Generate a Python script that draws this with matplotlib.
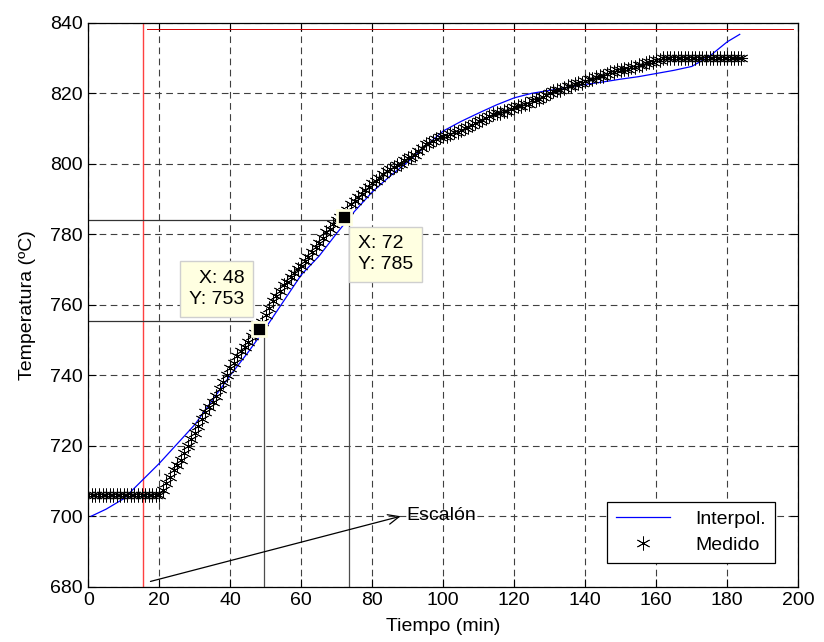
import matplotlib
matplotlib.use("Agg")
import matplotlib.pyplot as plt
import numpy as np

plt.rcParams['font.family'] = ['Liberation Sans', 'DejaVu Sans']

# ---- data ----
medido_t = list(range(0, 185))
medido_T = [706]*21 + [
    707.5, 709.5, 711, 713, 714.5, 716, 718, 720, 722, 723.5,            # 21-30
    725.5, 727.5, 729.5, 731, 732.5, 734, 736, 738, 740, 742,            # 31-40
    743.5, 745.5, 747, 748, 749.5, 751, 752, 753, 755, 757,              # 41-50
    759, 761, 762.5, 764, 765.5, 766.5, 768, 769, 770, 771,              # 51-60
    772.5, 773.5, 775, 776.5, 777.5, 779, 780.5, 781.5, 783, 784,        # 61-70
    785, 785, 787, 788.5, 789.5, 790.5, 791.5, 792.5, 793.5, 794.5,      # 71-80
    795, 796, 797, 798, 798.5, 799, 799.5, 800, 801, 801.5,              # 81-90
    802, 802.5, 803.5, 804.5, 805.5, 806, 806.5, 807, 807.5, 808,        # 91-100
    808, 808.5, 809, 809, 809.5, 810, 810.5, 811, 811.5, 812,            # 101-110
    812.5, 813, 813.5, 814, 814.5, 814.5, 815, 815, 815.5, 816,          # 111-120
    816.5, 816.5, 817, 817, 818, 818, 818.5, 819, 819.5, 820,            # 121-130
    820.5, 821, 821, 821.5, 822, 822, 822.5, 823, 823, 823.5,            # 131-140
    824, 824, 824.5, 825, 825, 825.5, 826, 826, 826.5, 826.5,            # 141-150
    827, 827, 827.5, 827.5, 828, 828, 828.5, 829, 829, 829.5,            # 151-160
    829.5, 830, 830, 830, 830, 830, 830, 830, 830, 830,                  # 161-170
    830, 830, 830, 830, 830, 830, 830, 830, 830, 830,                    # 171-180
    830, 830, 830, 830]                                                  # 181-184

interp_t = [0.8, 5, 10, 15, 20, 25, 30, 35, 40, 45, 50, 55, 60, 65, 70, 75, 80,
            85, 90, 95, 100, 105, 110, 115, 120, 125, 130, 135, 140, 145, 150,
            155, 160, 165, 170, 175, 180, 183.5]
interp_T = [700, 702, 705, 710, 715, 720.5, 726, 733, 740, 746.5, 753.5, 761,
            768.5, 773.8, 780.3, 786.5, 792, 796.5, 800.5, 805, 809.3, 812,
            814.4, 816.7, 818.7, 820, 820.8, 821.7, 822.5, 823.2, 824, 824.7,
            825.6, 826.5, 827.6, 830.5, 834.6, 836.7]

tips_x = [48, 72]
tips_y = [753, 785]

step_t = 15.5          # red vertical line
top_ref = 838.1        # red horizontal reference line

xticks = list(range(0, 201, 20))
yticks = list(range(680, 841, 20))

FS = 14

# ---- figure ----
fig = plt.figure(figsize=(8.24, 6.42), dpi=100)
ax = fig.add_axes([0.1072, 0.0861, 0.8616, 0.8785])

ax.set_xlim(0, 200)
ax.set_ylim(680, 840)
ax.set_xticks(xticks)
ax.set_yticks(yticks)
ax.tick_params(direction='in', top=True, right=True, labelsize=FS, length=6, width=0.8, pad=4)
for s in ax.spines.values():
    s.set_linewidth(0.9)
ax.grid(True, color='0.25', linestyle=(0, (6, 4)), linewidth=0.8)
ax.set_axisbelow(True)

# reference lines
ax.axvline(step_t, color='#ff4040', linewidth=1.0, zorder=2)
ax.plot([16.4, 198.5], [top_ref, top_ref], color='#d00000', linewidth=0.7, zorder=2)

ax.plot([0, 46], [755.4, 755.4], color='0.2', linewidth=0.9, zorder=2)
ax.plot([0, 69.3], [783.9, 783.9], color='0.2', linewidth=0.9, zorder=2)
ax.plot([49.4, 49.4], [680, 751.5], color='0.3', linewidth=0.9, zorder=2)
ax.plot([73.5, 73.5], [680, 784], color='0.3', linewidth=0.9, zorder=2)

# data
ax.plot(interp_t, interp_T, color='#0000ff', linewidth=0.9, label='Interpol.', zorder=3)
ax.plot(medido_t, medido_T, linestyle='none', marker=(6, 2, 0), markersize=10,
        markeredgewidth=0.6, color='black', label='Medido', zorder=4)
ax.plot([182, 185.5], [830, 830], color='black', linewidth=0.8, zorder=4)

# data tips
ax.plot(tips_x, tips_y, linestyle='none', marker='s', markersize=10,
        markerfacecolor='black', markeredgecolor='#ffffe1', markeredgewidth=2, zorder=6)
ax.text(36.2, 764.5, f"X: {tips_x[0]}\nY: {tips_y[0]}", ha='center', va='center',
        multialignment='right', fontsize=FS, linespacing=1.3, zorder=7,
        bbox=dict(boxstyle='square,pad=0.45', facecolor='#ffffe1', edgecolor='#cfcfcf', linewidth=1))
ax.text(83.7, 774.3, f"X: {tips_x[1]}\nY: {tips_y[1]}", ha='center', va='center',
        multialignment='left', fontsize=FS, linespacing=1.3, zorder=7,
        bbox=dict(boxstyle='square,pad=0.45', facecolor='#ffffe1', edgecolor='#cfcfcf', linewidth=1))

# annotation
ax.annotate('', xy=(88, 700), xytext=(17.5, 681.5),
            arrowprops=dict(arrowstyle='->,head_length=0.8,head_width=0.35', color='black',
                            linewidth=0.9, shrinkA=0, shrinkB=0), zorder=5)
ax.text(89.5, 700.3, 'Escalón', ha='left', va='center', fontsize=FS, zorder=5)

ax.set_xlabel('Tiempo (min)', fontsize=FS, labelpad=6)
ax.set_ylabel('Temperatura (ºC)', fontsize=FS, labelpad=10)

leg = ax.legend(loc='lower right', bbox_to_anchor=(0.967, 0.042), borderaxespad=0,
                fancybox=False, edgecolor='black', framealpha=1, fontsize=FS,
                handlelength=2.8, handletextpad=1.3, borderpad=0.45, labelspacing=0.45)
leg.get_frame().set_linewidth(0.9)
leg.set_zorder(8)

fig.savefig('out.png', dpi=100)
